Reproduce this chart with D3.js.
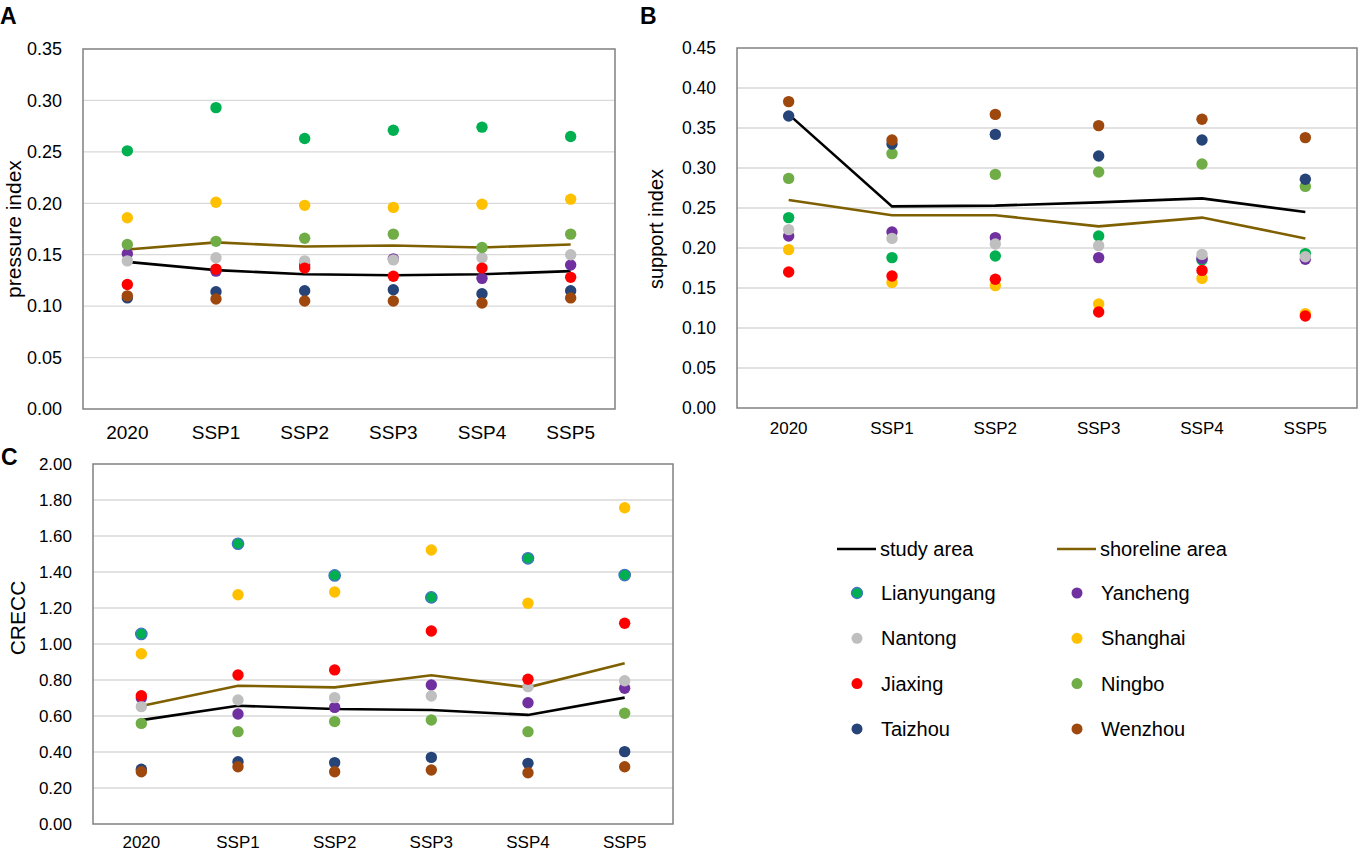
<!DOCTYPE html>
<html>
<head>
<meta charset="utf-8">
<script src="https://cdn.jsdelivr.net/npm/d3@7"></script>
<style>
  body { margin: 0; background: #fff; }
  svg { font-family: "Liberation Sans", Arial, sans-serif; }
</style>
</head>
<body>
<div id="chart"></div>
<script>
var cats = ["2020", "SSP1", "SSP2", "SSP3", "SSP4", "SSP5"];
var cities = ["Lianyungang", "Yancheng", "Nantong", "Shanghai", "Jiaxing", "Ningbo", "Taizhou", "Wenzhou"];
var cityColors = ["#00b050", "#7030a0", "#bfbfbf", "#ffc000", "#ff0000", "#70ad47", "#264478", "#9e480e"];

// pressure index (A), one row per city in the order of `cities`
var pressureCity = [
  [0.251, 0.293, 0.263, 0.271, 0.274, 0.265],
  [0.151, 0.134, 0.140, 0.146, 0.127, 0.140],
  [0.144, 0.147, 0.144, 0.145, 0.147, 0.150],
  [0.186, 0.201, 0.198, 0.196, 0.199, 0.204],
  [0.121, 0.136, 0.137, 0.129, 0.137, 0.128],
  [0.160, 0.163, 0.166, 0.170, 0.157, 0.170],
  [0.108, 0.114, 0.115, 0.116, 0.112, 0.115],
  [0.110, 0.107, 0.105, 0.105, 0.103, 0.108]
];
var pressureStudy = [0.143, 0.135, 0.131, 0.130, 0.131, 0.134];
var pressureShore = [0.155, 0.162, 0.158, 0.159, 0.157, 0.160];

// support index (B)
var supportCity = [
  [0.238, 0.188, 0.190, 0.215, 0.185, 0.193],
  [0.215, 0.220, 0.213, 0.188, 0.187, 0.186],
  [0.223, 0.212, 0.205, 0.203, 0.192, 0.189],
  [0.198, 0.157, 0.153, 0.130, 0.162, 0.118],
  [0.170, 0.165, 0.161, 0.120, 0.172, 0.115],
  [0.287, 0.318, 0.292, 0.295, 0.305, 0.277],
  [0.365, 0.330, 0.342, 0.315, 0.335, 0.286],
  [0.383, 0.335, 0.367, 0.353, 0.361, 0.338]
];
var supportStudy = [0.367, 0.252, 0.253, 0.257, 0.262, 0.245];
var supportShore = [0.260, 0.241, 0.241, 0.227, 0.238, 0.212];

// CRECC (C)
var creccCity = [
  [1.056, 1.557, 1.381, 1.259, 1.476, 1.383],
  [0.700, 0.611, 0.648, 0.772, 0.674, 0.754],
  [0.652, 0.689, 0.702, 0.711, 0.763, 0.796],
  [0.946, 1.274, 1.289, 1.522, 1.226, 1.757],
  [0.713, 0.828, 0.856, 1.072, 0.804, 1.115],
  [0.559, 0.513, 0.569, 0.578, 0.513, 0.615],
  [0.304, 0.346, 0.341, 0.370, 0.337, 0.402],
  [0.290, 0.318, 0.290, 0.300, 0.285, 0.318]
];
var creccStudy = [0.577, 0.657, 0.639, 0.633, 0.606, 0.702];
var creccShore = [0.656, 0.768, 0.759, 0.826, 0.759, 0.893];

var lineNames = ["study area", "shoreline area"];
var lineColors = ["#000000", "#7f6000"];

var svg = d3.select("#chart").append("svg")
    .attr("width", 1358)
    .attr("height", 853);

function drawPanel(p) {
    var g = svg.append("g");
    var x = d3.scaleBand().domain(cats).range([p.left, p.right]);
    var y = d3.scaleLinear().domain([0, p.max]).range([p.bottom, p.top]);
    var ticks = d3.range(0, Math.round(p.max / p.step) + 1).map(function (i) { return i * p.step; });

    // gridlines
    g.selectAll(".grid")
        .data(ticks.slice(1, -1))
        .enter().append("line")
        .attr("x1", p.left).attr("x2", p.right)
        .attr("y1", function (d) { return y(d); })
        .attr("y2", function (d) { return y(d); })
        .attr("stroke", "#d9d9d9")
        .attr("stroke-width", 1.3);

    // frame
    g.append("rect")
        .attr("x", p.left).attr("y", p.top)
        .attr("width", p.right - p.left).attr("height", p.bottom - p.top)
        .attr("fill", "none")
        .attr("stroke", "#808080")
        .attr("stroke-width", 1.5);

    var ya = g.append("g")
        .attr("transform", "translate(" + p.left + ",0)")
        .call(d3.axisLeft(y).tickValues(ticks).tickSize(0).tickPadding(21).tickFormat(d3.format(".2f")));
    ya.select(".domain").remove();
    ya.selectAll("text").attr("font-size", p.yfs).attr("fill", "#000")
        .style("font-family", "Liberation Sans, Arial, sans-serif");

    var xa = g.append("g")
        .attr("transform", "translate(0," + p.bottom + ")")
        .call(d3.axisBottom(x).tickSize(0).tickPadding(p.xpad));
    xa.select(".domain").remove();
    xa.selectAll("text").attr("font-size", p.xfs).attr("fill", "#000")
        .style("font-family", "Liberation Sans, Arial, sans-serif");

    // title on y
    g.append("text")
        .attr("transform", "translate(" + p.titleX + "," + p.titleY + ") rotate(-90)")
        .attr("text-anchor", "middle")
        .attr("dominant-baseline", "central")
        .attr("font-size", p.titleFs)
        .text(p.title);

    // panel letter
    g.append("text")
        .attr("x", p.letterX).attr("y", p.letterY)
        .attr("font-size", 23)
        .attr("font-weight", "bold")
        .text(p.letter);

    var cx = function (d, i) { return x(cats[i]) + x.bandwidth() / 2; };
    var line = d3.line()
        .x(function (d, i) { return x(cats[i]) + x.bandwidth() / 2; })
        .y(function (d) { return y(d); });

    [p.study, p.shore].forEach(function (s, k) {
        g.append("path")
            .attr("d", line(s))
            .attr("fill", "none")
            .attr("stroke", lineColors[k])
            .attr("stroke-width", 2.6);
    });

    p.cityData.forEach(function (vals, c) {
        g.selectAll(null)
            .data(vals)
            .enter().append("circle")
            .attr("cx", cx)
            .attr("cy", function (d) { return y(d); })
            .attr("r", 5.7)
            .attr("fill", cityColors[c])
            .attr("stroke", (c === 0 && p.outline) ? "#4472c4" : "none")
            .attr("stroke-width", 1.3);
    });
}

drawPanel({
    letter: "A", letterX: 0, letterY: 24,
    left: 83, right: 615, top: 49, bottom: 409, max: 0.35, step: 0.05,
    yfs: 18, xfs: 19, xpad: 17,
    title: "pressure index", titleX: 13, titleY: 229, titleFs: 21,
    cityData: pressureCity, study: pressureStudy, shore: pressureShore, outline: false
});
drawPanel({
    letter: "B", letterX: 640, letterY: 24,
    left: 737, right: 1357, top: 48, bottom: 408, max: 0.45, step: 0.05,
    yfs: 17.5, xfs: 17, xpad: 14,
    title: "support index", titleX: 656, titleY: 229, titleFs: 20,
    cityData: supportCity, study: supportStudy, shore: supportShore, outline: false
});
drawPanel({
    letter: "C", letterX: 1, letterY: 465,
    left: 93, right: 673, top: 464, bottom: 824, max: 2.0, step: 0.2,
    yfs: 17, xfs: 17, xpad: 12,
    title: "CRECC", titleX: 17, titleY: 618, titleFs: 21,
    cityData: creccCity, study: creccStudy, shore: creccShore, outline: true
});

// legend
var leg = svg.append("g").attr("font-size", 20);
lineNames.forEach(function (n, k) {
    var lx = k === 0 ? 837 : 1057;
    leg.append("line")
        .attr("x1", lx).attr("x2", lx + 39)
        .attr("y1", 549).attr("y2", 549)
        .attr("stroke", lineColors[k]).attr("stroke-width", 2.6);
    leg.append("text")
        .attr("x", lx + 43).attr("y", 549)
        .attr("dominant-baseline", "central")
        .text(n);
});
cities.forEach(function (n, c) {
    var col = c % 2, row = Math.floor(c / 2);
    var mx = col === 0 ? 857 : 1077;
    var my = 593 + row * 45.3;
    leg.append("circle")
        .attr("cx", mx).attr("cy", my).attr("r", 5.5)
        .attr("fill", cityColors[c])
        .attr("stroke", c === 0 ? "#4472c4" : "none")
        .attr("stroke-width", 1.3);
    leg.append("text")
        .attr("x", mx + 24).attr("y", my)
        .attr("dominant-baseline", "central")
        .text(n);
});
</script>
</body>
</html>
